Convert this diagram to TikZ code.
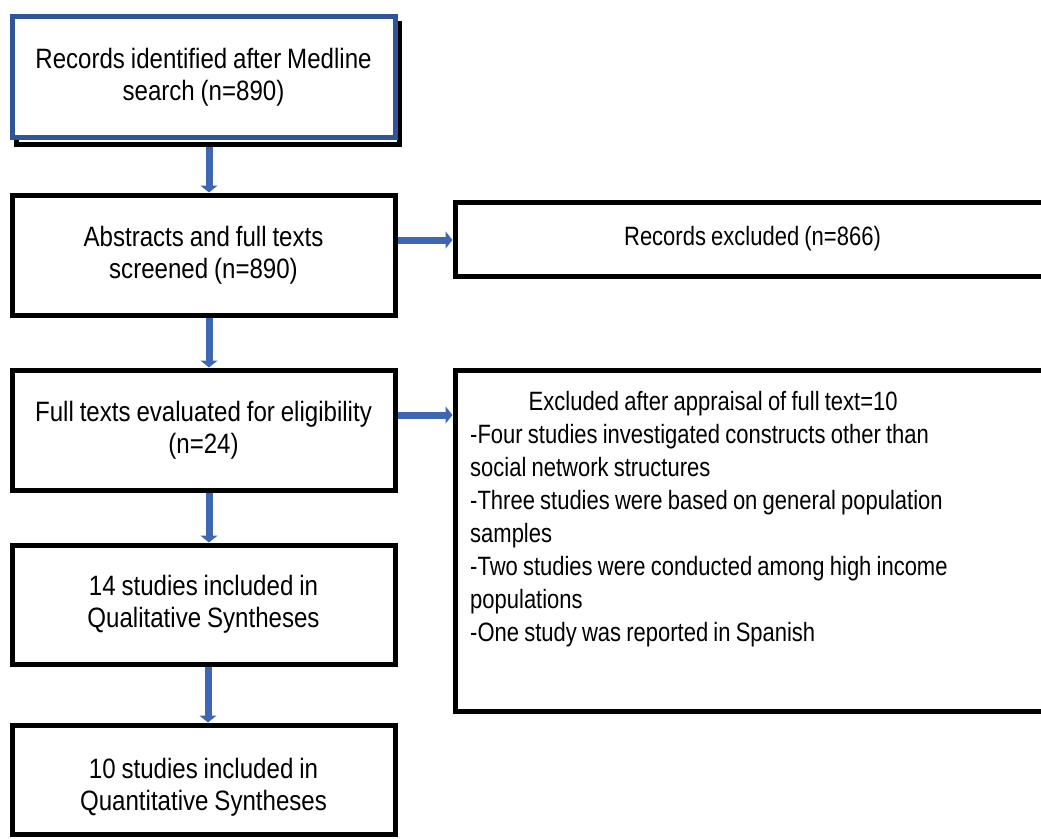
\documentclass[tikz,border=0pt]{standalone}
\usepackage{fontspec}
\setmainfont{Liberation Sans}[FakeStretch=0.86,WordSpace=0.88]
\newfontfamily\narrowfont{Liberation Sans}[FakeStretch=0.83,WordSpace=0.85]
\usetikzlibrary{arrows.meta}
\definecolor{boxblue}{HTML}{2F5597}
\definecolor{arrowblue}{HTML}{3F67B1}
\begin{document}
\begin{tikzpicture}[x=1pt,y=-1pt,
  font=\fontsize{28}{32}\selectfont,
  box/.style={draw=black, line width=5pt, fill=white, inner sep=0pt, align=center},
  bluebox/.style={box, draw=boxblue},
  rfont/.style={font=\narrowfont\fontsize{26.5}{33}\selectfont},
  txt/.style={inner sep=0pt, align=left, rfont},
  flow/.style={draw=arrowblue, line width=7pt, -{Triangle[length=7pt,width=17pt]}}]
\useasboundingbox (0,0) rectangle (1041,838);
\clip (0,0) rectangle (1041,838);
% shadow of top box
\node[box, minimum width=383pt, minimum height=121pt] (b1s) at (207.5,83.5) {};
\node[bluebox, minimum width=383pt, minimum height=121pt] (b1) at (203.5,77)
  {Records identified after Medline\\search (n=890)};
\node[box, minimum width=383pt, minimum height=120pt] (b2) at (203.5,255)
  {Abstracts and full texts\\screened (n=890)};
\node[box, minimum width=383pt, minimum height=120pt] (b3) at (203.5,430)
  {Full texts evaluated for eligibility\\(n=24)};
\node[box, minimum width=383pt, minimum height=119pt] (b4) at (203.5,604.5)
  {14 studies included in\\Qualitative Syntheses};
\node[box, minimum width=383pt, minimum height=109pt] (b5) at (203.5,779.5) {};
\node[inner sep=0pt, align=center] (b5t) at (203.5,787)
  {10 studies included in\\Quantitative Syntheses};
\node[box, rfont, minimum width=595pt, minimum height=74pt] (r1) at (752.5,239)
  {Records excluded (n=866)};
\node[box, minimum width=595pt, minimum height=341pt] (r2) at (752.5,540.5) {};
\node[txt, anchor=north west] (r2t) at (470,391)
  {\makebox[486pt][c]{Excluded after appraisal of full text=10}\\
   -Four studies investigated constructs other than\\
   social network structures\\
   -Three studies were based on general population\\
   samples\\
   -Two studies were conducted among high income\\
   populations\\
   -One study was reported in Spanish};
% connectors
\draw[flow] (b1s.south -| 209,0) -- (b2.north -| 209,0);
\draw[flow] (b2.south -| 209,0) -- (b3.north -| 209,0);
\draw[flow] (b3.south -| 209,0) -- (b4.north -| 209,0);
\draw[flow] (b4.south -| 208,0) -- (b5.north -| 208,0);
\draw[flow] (b2.east |- 0,240) -- (r1.west |- 0,240);
\draw[flow] (b3.east |- 0,415) -- (r2.west |- 0,415);
\end{tikzpicture}
\end{document}
